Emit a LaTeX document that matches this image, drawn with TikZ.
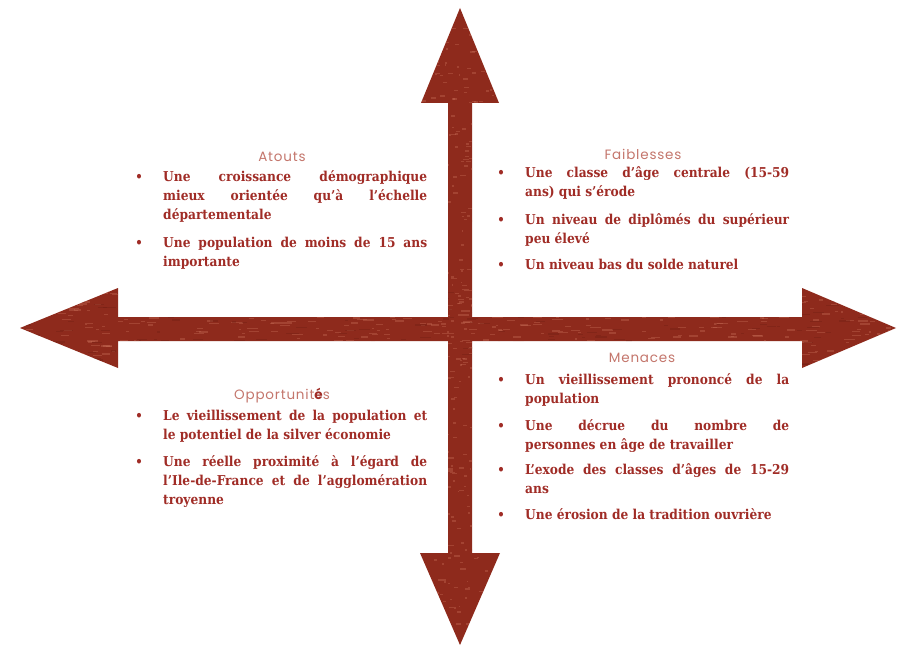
\documentclass[tikz,border=0pt]{standalone}
\usepackage{fontspec}
\setmainfont{DejaVu Serif}
\newfontfamily\headfont[LetterSpace=6]{Poppins}
\newfontfamily\bodyfont{DejaVu Serif Condensed}
\definecolor{arrowred}{RGB}{142,42,28}
\definecolor{speck}{RGB}{205,115,92}
\definecolor{dspeck}{RGB}{110,28,18}
\definecolor{txtred}{RGB}{160,44,38}
\definecolor{headred}{RGB}{196,118,108}
\tikzset{
  itemtext/.style={anchor=north west, inner sep=0pt, text width=264pt, align=justify,
    text=txtred, font=\bodyfont\bfseries\fontsize{13.6}{19}\selectfont, execute at begin node=\strut},
  bul/.style={inner sep=0pt, text=txtred, font=\bodyfont\bfseries\fontsize{13}{15}\selectfont},
  heading/.style={inner sep=0pt, text=headred, font=\headfont\fontsize{13.5}{15}\selectfont},
}
\begin{document}
\begin{tikzpicture}[x=1pt,y=-1pt]
\fill[white] (0,0) rectangle (897,647);
\useasboundingbox (0,0) rectangle (897,647);
% the cross of arrows
\def\crosspath{(20,328) -- (118,288) -- (118,317) -- (448,317) -- (448,103) -- (421,103) -- (460,8) -- (499,103) -- (472,103) -- (472,317) -- (802,317) -- (802,288) -- (896,328) -- (802,368) -- (802,341) -- (472,341) -- (472,553) -- (500,553) -- (460,645) -- (420,553) -- (448,553) -- (448,341) -- (118,341) -- (118,368) -- cycle}
\fill[arrowred] \crosspath;
\begin{scope}
  \clip \crosspath;
  \pgfmathsetseed{42}
  \foreach \i in {1,...,600}{
    \pgfmathsetmacro{\xx}{20+876*rnd}
    \pgfmathsetmacro{\yy}{288+80*rnd}
    \pgfmathsetmacro{\ll}{2+9*rnd}
    \fill[speck, opacity=0.35] (\xx,\yy) rectangle ++(\ll,1.3);
  }
  \foreach \i in {1,...,500}{
    \pgfmathsetmacro{\xx}{420+80*rnd}
    \pgfmathsetmacro{\yy}{8+637*rnd}
    \pgfmathsetmacro{\ll}{1.5+4*rnd}
    \fill[speck, opacity=0.35] (\xx,\yy) rectangle ++(\ll,1.5);
  }
  \foreach \i in {1,...,250}{
    \pgfmathsetmacro{\xx}{20+876*rnd}
    \pgfmathsetmacro{\yy}{288+80*rnd}
    \pgfmathsetmacro{\ll}{3+10*rnd}
    \fill[dspeck, opacity=0.35] (\xx,\yy) rectangle ++(\ll,1.2);
  }
\end{scope}
% headings
\node[heading] (hA) at (282,157) {Atouts};
\node[heading] (hF) at (643,154) {Faiblesses};
\node[heading] (hO) at (282,396) {Opportunit{\textcolor{txtred}{\bfseries é}}s};
\node[heading] (hM) at (642,358) {Menaces};
% Atouts
\node[bul] (bA1) at (139,178) {•};
\node[itemtext] (tA1) at (163,168) {Une croissance démographique\linebreak mieux orientée qu’à l’échelle\linebreak départementale};
\node[bul] (bA2) at (139,244) {•};
\node[itemtext] (tA2) at (163,234) {Une population de moins de 15 ans\linebreak importante};
% Faiblesses
\node[bul] (bF1) at (501,174) {•};
\node[itemtext] (tF1) at (525,164) {Une classe d’âge centrale (15-59\linebreak ans) qui s’érode};
\node[bul] (bF2) at (501,221) {•};
\node[itemtext] (tF2) at (525,211) {Un niveau de diplômés du supérieur\linebreak peu élevé};
\node[bul] (bF3) at (501,266) {•};
\node[itemtext] (tF3) at (525,256) {Un niveau bas du solde naturel};
% Opportunites
\node[bul] (bO1) at (139,417) {•};
\node[itemtext] (tO1) at (163,407) {Le vieillissement de la population et\linebreak le potentiel de la silver économie};
\node[bul] (bO2) at (139,463) {•};
\node[itemtext] (tO2) at (163,453) {Une réelle proximité à l’égard de\linebreak l’Ile-de-France et de l’agglomération\linebreak troyenne};
% Menaces
\node[bul] (bM1) at (501,381) {•};
\node[itemtext] (tM1) at (525,371) {Un vieillissement prononcé de la\linebreak population};
\node[bul] (bM2) at (501,427) {•};
\node[itemtext] (tM2) at (525,417) {Une décrue du nombre de\linebreak personnes en âge de travailler};
\node[bul] (bM3) at (501,471) {•};
\node[itemtext] (tM3) at (525,461) {L’exode des classes d’âges de 15-29\linebreak ans};
\node[bul] (bM4) at (501,516) {•};
\node[itemtext] (tM4) at (525,506) {Une érosion de la tradition ouvrière};
\end{tikzpicture}
\end{document}
